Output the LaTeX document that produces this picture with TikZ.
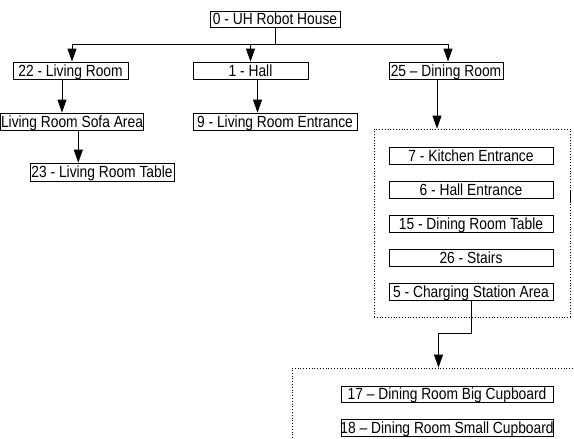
\documentclass[tikz,border=0pt]{standalone}
\usepackage{fontspec}
\usepackage{graphicx}
\setmainfont{Liberation Sans}
\usetikzlibrary{arrows.meta}
\newcommand{\tx}[1]{\makebox[0pt]{\scalebox{1}[1.17]{#1}}}
\begin{document}
\begin{tikzpicture}[x=1pt,y=-1pt,
  bx/.style={draw, line width=0.8pt, inner sep=0pt, minimum height=17pt,
    font=\fontsize{13.8}{16}\selectfont, text height=13pt, text depth=2pt},
  arr/.style={line width=0.8pt, -{Triangle[length=13pt,width=9pt]}},
  ln/.style={line width=0.8pt},
  grp/.style={draw, dotted, line width=0.8pt, inner sep=0pt}]
\useasboundingbox (0,0) rectangle (574,439);
\clip (0,0) rectangle (574,439);
% top level
\node[bx, minimum width=130pt, minimum height=16pt] (root) at (275,19) {\tx{0 - UH Robot House}};
\node[bx, minimum width=115pt] (lr22) at (70.5,70.5) {\tx{22 - Living Room}};
\node[bx, minimum width=115pt] (hall) at (250.5,70.5) {\tx{1 - Hall}};
\node[bx, minimum width=114pt] (dr25) at (446,70.5) {\tx{25 -- Dining Room}};
% second level
\node[bx, minimum width=143pt] (sofa) at (72,121.5) {\tx{Living Room Sofa Area}};
\node[bx, minimum width=164pt] (entr9) at (275,121.5) {\tx{9 - Living Room Entrance}};
\node[bx, minimum width=144pt, minimum height=18pt] (table23) at (102,172) {\tx{23 - Living Room Table}};
% dining group
\node[grp, minimum width=196pt, minimum height=188pt] (g1) at (472,223) {};
\node[bx, minimum width=164pt] (k7) at (471,155.5) {\tx{7 - Kitchen Entrance}};
\node[bx, minimum width=164pt] (h6) at (471,189.5) {\tx{6 - Hall Entrance}};
\node[bx, minimum width=164pt] (t15) at (471,223.5) {\tx{15 - Dining Room Table}};
\node[bx, minimum width=164pt] (s26) at (471,257.5) {\tx{26 - Stairs}};
\node[bx, minimum width=164pt] (c5) at (471,291.5) {\tx{5 - Charging Station Area}};
\draw[line width=1.6pt] ([yshift=33pt]g1.east) -- ([yshift=20pt]g1.east);
% cupboard group
\node[grp, minimum width=290pt, minimum height=90pt] (g2) at (437,413) {};
\node[bx, minimum width=212pt, minimum height=16pt] (b17) at (447,394) {\tx{17 -- Dining Room Big Cupboard}};
\node[bx, minimum width=212pt] (b18) at (447,428) {\tx{18 -- Dining Room Small Cupboard}};
% connectors
\coordinate (bus) at (275,44);
\draw[ln] (root.south) -- (bus);
\draw[arr] (bus) -| ([xshift=1.5pt]lr22.north);
\draw[arr] (bus) -| (hall.north);
\draw[arr] (bus) -| ([xshift=2pt]dr25.north);
\draw[arr] ([xshift=-8.5pt]lr22.south) -- ([xshift=-10pt]sofa.north);
\draw[arr] ([xshift=7pt]hall.south) -- ([xshift=-17.5pt]entr9.north);
\draw[arr] ([xshift=6.3pt]sofa.south) -- ([xshift=-23.7pt]table23.north);
\draw[arr] ([xshift=-9pt]dr25.south) -- ([xshift=-35pt]g1.north);
\draw[arr] ([xshift=0.7pt]c5.south) -- ++(0,33) -| ([xshift=1.5pt]g2.north);
\end{tikzpicture}
\end{document}
